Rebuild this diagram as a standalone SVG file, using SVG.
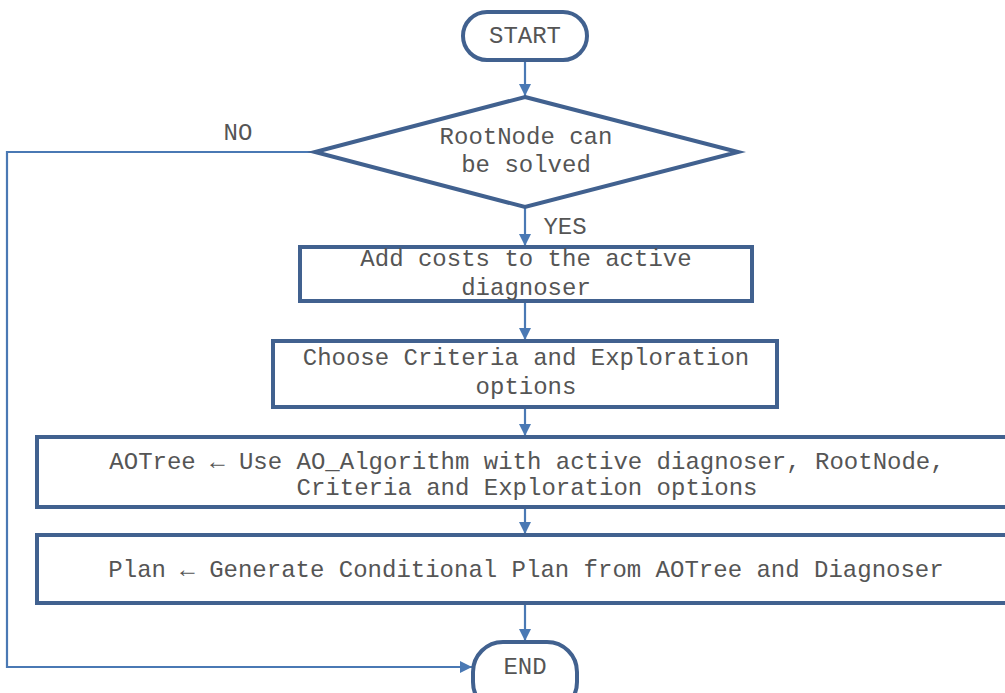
<svg xmlns="http://www.w3.org/2000/svg" width="1005" height="693" viewBox="0 0 1005 693">
<style>
.n{fill:#fff;stroke:#41618f;stroke-width:4}
.t{font-family:"Liberation Mono","Courier New",monospace;font-size:24px;fill:#555;text-anchor:middle}
.c{fill:none;stroke:#4a79b4;stroke-width:2.2}
</style>
<defs>
<marker id="ah" markerWidth="12" markerHeight="12" viewBox="0 0 12 12" refX="12" refY="6" orient="auto" markerUnits="userSpaceOnUse">
<path d="M0,0 L12,6 L0,12 Z" fill="#4a79b4"/>
</marker>
</defs>
<rect width="1005" height="693" fill="#fff"/>
<g id="connectors">
<line class="c" x1="525" y1="60" x2="525" y2="96" marker-end="url(#ah)"/>
<line class="c" x1="525" y1="207" x2="525" y2="246" marker-end="url(#ah)"/>
<line class="c" x1="525" y1="301" x2="525" y2="340" marker-end="url(#ah)"/>
<line class="c" x1="525" y1="407" x2="525" y2="436" marker-end="url(#ah)"/>
<line class="c" x1="525" y1="507" x2="525" y2="534" marker-end="url(#ah)"/>
<line class="c" x1="525" y1="603" x2="525" y2="641" marker-end="url(#ah)"/>
<polyline class="c" points="316,152 7,152 7,667 472,667" marker-end="url(#ah)"/>
<text class="t" x="238" y="140">NO</text>
<text class="t" x="565" y="234">YES</text>
</g>
<g id="start">
<rect class="n" x="463" y="12" width="124" height="48" rx="24"/>
<text class="t" x="525" y="43">START</text>
</g>
<g id="decision">
<polygon class="n" points="525,97 738,152 525,207 315,152"/>
<text class="t" x="526" y="144">RootNode can</text>
<text class="t" x="526" y="172">be solved</text>
</g>
<g id="costs">
<rect class="n" x="300" y="247" width="452" height="54"/>
<text class="t" x="526" y="266">Add costs to the active</text>
<text class="t" x="526" y="295">diagnoser</text>
</g>
<g id="criteria">
<rect class="n" x="273" y="341" width="504" height="66"/>
<text class="t" x="526" y="365">Choose Criteria and Exploration</text>
<text class="t" x="526" y="394">options</text>
</g>
<g id="aotree">
<rect class="n" x="37" y="437" width="980" height="70"/>
<text class="t" x="527" y="469">AOTree ← Use AO_Algorithm with active diagnoser, RootNode,</text>
<text class="t" x="527" y="495">Criteria and Exploration options</text>
</g>
<g id="plan">
<rect class="n" x="37" y="535" width="980" height="68"/>
<text class="t" x="526" y="577">Plan ← Generate Conditional Plan from AOTree and Diagnoser</text>
</g>
<g id="end">
<rect class="n" x="473" y="642" width="104" height="70" rx="30"/>
<text class="t" x="525" y="674">END</text>
</g>
</svg>
